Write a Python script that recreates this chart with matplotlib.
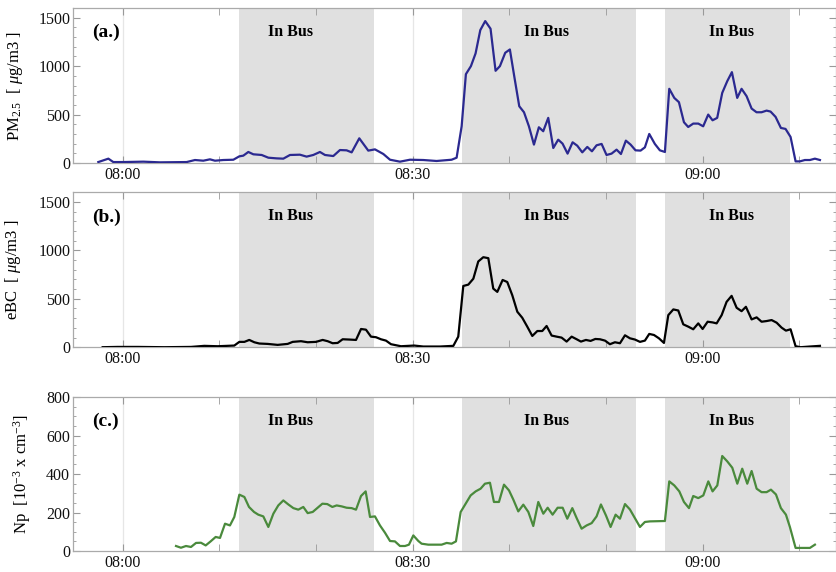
import matplotlib
matplotlib.use("Agg")
import matplotlib.pyplot as plt
from matplotlib.ticker import FixedLocator, MultipleLocator, FuncFormatter
import matplotlib.transforms as mtransforms

plt.rcParams['font.family'] = ['Liberation Serif', 'DejaVu Serif']
plt.rcParams['mathtext.fontset'] = 'custom'
plt.rcParams['mathtext.rm'] = 'Liberation Serif'
plt.rcParams['mathtext.it'] = 'Liberation Serif:italic'

# time is in minutes after 08:00
pm_t = [-2.52, -1.48, -0.97, 0.07, 2.14, 3.86, 6.62, 7.48, 8.34, 9.03, 9.55, 10.41, 11.45,
        12.07, 12.48, 13.0, 13.52, 14.38, 15.07, 15.93, 16.62, 17.31, 18.34, 19.03, 19.72,
        20.41, 20.93, 21.79, 22.48, 23.17, 23.69, 24.48, 25.41, 26.1, 26.97, 27.66, 28.69,
        29.72, 31.1, 32.48, 34.03, 34.55, 35.07, 35.51, 36.03, 36.51, 37.0, 37.51, 38.06,
        38.58, 39.03, 39.58, 40.06, 40.51, 41.03, 41.52, 42.03, 42.55, 43.06, 43.51, 44.03,
        44.55, 45.06, 45.51, 46.03, 46.55, 47.03, 47.55, 48.07, 48.55, 49.03, 49.55, 50.06,
        50.58, 51.1, 51.55, 52.06, 52.55, 53.06, 53.58, 54.03, 54.48, 55.06, 55.58, 56.1,
        56.55, 57.07, 57.55, 58.07, 58.51, 59.03, 59.55, 60.06, 60.58, 61.03, 61.51, 62.03,
        62.55, 63.03, 63.58, 64.03, 64.55, 65.07, 65.58, 66.1, 66.62, 67.03, 67.55, 68.1,
        68.58, 69.1, 69.62, 70.06, 70.58, 71.1, 71.62, 72.14]
pm25 = [10, 45, 10, 10, 14, 7, 10, 31, 24, 38, 24, 31, 34,
        69, 76, 114, 90, 83, 55, 48, 45, 83, 86, 66, 83,
        114, 83, 72, 134, 131, 110, 255, 128, 141, 93, 34, 14,
        34, 31, 21, 34, 55, 379, 917, 1000, 1131, 1372, 1465, 1386,
        952, 1000, 1138, 1172, 897, 586, 524, 379, 190, 369, 328, 466,
        155, 241, 200, 97, 214, 179, 110, 166, 121, 183, 197, 83,
        97, 138, 93, 231, 190, 131, 128, 162, 300, 197, 131, 114,
        766, 672, 628, 421, 372, 407, 407, 379, 500, 441, 466, 724,
        845, 938, 672, 766, 690, 562, 524, 524, 541, 531, 476, 362,
        352, 269, 17, 17, 31, 31, 45, 31]

bc_t = [-2.07, -0.52, 1.55, 4.31, 7.07, 8.45, 9.83, 11.55, 12.07, 12.59, 13.1, 13.62, 14.14,
        15.0, 16.03, 17.07, 17.59, 18.45, 19.14, 20.0, 20.69, 21.21, 21.72, 22.24, 22.76,
        23.45, 24.14, 24.66, 25.17, 25.69, 26.21, 26.72, 27.24, 27.76, 28.79, 30.17, 31.1,
        32.83, 34.21, 34.72, 35.24, 35.76, 36.28, 36.79, 37.31, 37.83, 38.34, 38.76, 39.31,
        39.79, 40.31, 40.83, 41.34, 41.86, 42.38, 42.9, 43.41, 43.86, 44.38, 44.9, 45.41,
        45.93, 46.45, 46.97, 47.41, 47.93, 48.41, 48.9, 49.38, 49.9, 50.41, 50.93, 51.45,
        51.97, 52.48, 53.0, 53.52, 54.03, 54.48, 54.97, 55.48, 56.0, 56.45, 56.97, 57.48,
        58.0, 58.52, 59.03, 59.55, 60.0, 60.52, 61.03, 61.45, 61.97, 62.48, 63.0, 63.52,
        64.03, 64.48, 65.07, 65.59, 66.1, 66.62, 67.14, 67.66, 68.17, 68.62, 69.1, 69.62,
        70.14, 71.1, 72.14]
ebc = [0, 3, 3, 0, 3, 14, 10, 17, 55, 55, 75, 51, 38,
       34, 24, 34, 55, 62, 51, 55, 75, 62, 41, 44, 82,
       79, 75, 188, 181, 109, 103, 82, 68, 31, 10, 17, 7,
       7, 14, 109, 632, 646, 707, 885, 929, 919, 605, 571, 694,
       673, 536, 366, 304, 212, 116, 167, 167, 219, 120, 109, 99,
       58, 109, 82, 58, 75, 65, 85, 82, 68, 31, 51, 41,
       123, 92, 79, 55, 68, 137, 126, 92, 44, 331, 390, 379,
       236, 212, 185, 246, 188, 263, 256, 246, 331, 468, 530, 407,
       372, 417, 287, 308, 263, 270, 280, 253, 202, 171, 185, 10,
       0, 7, 14]

np_t = [5.52, 6.03, 6.55, 7.07, 7.59, 8.1, 8.59, 9.1, 9.62, 10.07, 10.59, 11.1, 11.55,
        12.07, 12.59, 13.07, 13.59, 14.03, 14.55, 15.07, 15.59, 16.1, 16.62, 17.14, 17.66,
        18.17, 18.69, 19.14, 19.66, 20.17, 20.66, 21.17, 21.69, 22.14, 22.66, 23.17, 23.69,
        24.14, 24.66, 25.14, 25.59, 26.1, 26.62, 27.14, 27.66, 28.17, 28.69, 29.21, 29.62,
        30.07, 30.59, 30.93, 31.62, 33.0, 33.52, 34.03, 34.48, 34.97, 35.48, 36.0, 36.52,
        37.03, 37.48, 38.0, 38.41, 38.93, 39.45, 39.97, 40.41, 40.93, 41.45, 41.97, 42.48,
        43.0, 43.52, 43.97, 44.48, 45.0, 45.52, 46.0, 46.52, 46.97, 47.48, 48.0, 48.52,
        49.03, 49.48, 50.0, 50.48, 51.0, 51.45, 51.97, 52.48, 53.0, 53.52, 54.03, 54.55,
        56.1, 56.55, 57.07, 57.59, 58.07, 58.59, 59.03, 59.55, 60.07, 60.59, 61.03, 61.52,
        62.03, 62.55, 63.07, 63.59, 64.1, 64.62, 65.07, 65.59, 66.1, 66.62, 67.07, 67.59,
        68.1, 68.62, 69.03, 69.62, 70.14, 71.1, 71.62]
np_conc = [26, 17, 26, 21, 42, 43, 29, 50, 73, 68, 142, 133, 177,
           293, 281, 229, 203, 189, 180, 125, 194, 237, 263, 242, 223,
           215, 229, 197, 203, 225, 246, 244, 229, 237, 232, 225, 223,
           215, 286, 310, 177, 180, 133, 95, 52, 50, 26, 26, 33,
           81, 52, 38, 33, 33, 42, 38, 50, 203, 246, 289, 310,
           324, 350, 355, 255, 255, 345, 315, 268, 206, 241, 203, 130,
           255, 194, 225, 189, 225, 225, 168, 223, 171, 116, 133, 145,
           180, 242, 185, 125, 189, 168, 244, 216, 171, 125, 151, 154,
           156, 362, 341, 310, 255, 223, 286, 275, 289, 362, 310, 341,
           494, 466, 433, 350, 428, 350, 416, 324, 306, 306, 319, 294,
           223, 189, 125, 16, 16, 16, 33]

# on-bus periods
bus_start = [12.0, 35.1, 56.1]
bus_end = [26.0, 53.1, 69.0]
bus_label_x = [17.4, 43.9, 63.0]

panels = [
    dict(t=pm_t, y=pm25, color='#2b2990', tag='(a.)', ymax=1600, major=500, minor=100,
         ylabel=r'PM$_{2.5}$  [ $\mu$g/m3 ]', lx=-0.063),
    dict(t=bc_t, y=ebc, color='black', tag='(b.)', ymax=1600, major=500, minor=100,
         ylabel=r'eBC  [ $\mu$g/m3 ]', lx=-0.066),
    dict(t=np_t, y=np_conc, color='#4a8a3c', tag='(c.)', ymax=800, major=200, minor=50,
         ylabel=r'Np  [10$^{-3}$ x cm$^{-3}$]', lx=-0.052),
]

fig = plt.figure(figsize=(8.37, 5.72), dpi=100)
boxes = [(0.0872, 0.715, 0.9116, 0.271),
         (0.0872, 0.393, 0.9116, 0.271),
         (0.0872, 0.0367, 0.9116, 0.269)]

def hhmm(m, pos=None):
    m = int(round(m))
    return f"{8 + m // 60:02d}:{m % 60:02d}"

for box, p in zip(boxes, panels):
    ax = fig.add_axes(box)
    for t in [0, 30, 60]:
        ax.axvline(t, color='#e6e6e6', lw=0.9, zorder=0)
    for s, e in zip(bus_start, bus_end):
        ax.axvspan(s, e, color='#e0e0e0', lw=0, zorder=1)
    ax.plot(p['t'], p['y'], color=p['color'], lw=1.6, zorder=3)

    trans = mtransforms.blended_transform_factory(ax.transData, ax.transAxes)
    for x in bus_label_x:
        ax.text(x, 0.845, 'In Bus', transform=trans, ha='center', va='center',
                fontsize=11.5, fontweight='bold', zorder=4)
    ax.text(0.025, 0.84, p['tag'], transform=ax.transAxes, ha='left', va='center',
            fontsize=14, fontweight='bold', zorder=4)

    ax.set_xlim(-5.14, 73.8)
    ax.set_ylim(0, p['ymax'])
    ax.xaxis.set_major_locator(FixedLocator([0, 30, 60]))
    ax.xaxis.set_minor_locator(FixedLocator([-10, 10, 20, 40, 50, 70]))
    ax.xaxis.set_major_formatter(FuncFormatter(hhmm))
    ax.yaxis.set_major_locator(MultipleLocator(p['major']))
    ax.yaxis.set_minor_locator(MultipleLocator(p['minor']))

    ax.tick_params(axis='both', which='both', direction='in', top=True, right=True,
                   color='#999999', labelsize=11.5, labelcolor='#111111')
    ax.tick_params(axis='x', which='both', length=5, pad=3)
    ax.tick_params(axis='y', which='major', length=5, pad=2)
    ax.tick_params(axis='y', which='minor', length=2.5)
    for sp in ax.spines.values():
        sp.set_color('#aaaaaa')
        sp.set_linewidth(0.9)

    ax.set_ylabel(p['ylabel'], fontsize=12)
    ax.yaxis.set_label_coords(p['lx'], 0.5)

fig.savefig('out.png', dpi=100)
